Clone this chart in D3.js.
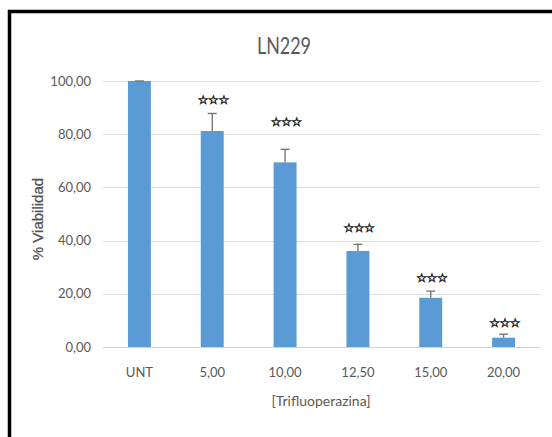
<!DOCTYPE html>
<html>
<head>
<meta charset="utf-8">
<script src="https://cdn.jsdelivr.net/npm/d3@7"></script>
<style>
  html, body { margin: 0; padding: 0; background: #fff; }
  svg { display: block; }
</style>
</head>
<body>
<svg id="chart" width="552" height="437"></svg>
<script>
// Viability of LN229 cells under increasing trifluoperazine concentrations
const categories = ["UNT", "5,00", "10,00", "12,50", "15,00", "20,00"];
const viability = [100, 81.2, 69.4, 36.1, 18.5, 3.5];
const errorUp = [0, 6.6, 4.9, 2.5, 2.5, 1.3];
const significance = ["", "***", "***", "***", "***", "***"];
const markerLevel = [0, 93.2, 85, 45.1, 26.3, 9.4];
const yTicks = [0, 20, 40, 60, 80, 100];

const svg = d3.select("#chart");
const W = 552, H = 437;
const margin = { left: 103, top: 81 };
const plotRight = 540, plotBottom = 347;

const x = d3.scaleBand().domain(categories).range([margin.left, plotRight]).paddingInner(0.685).paddingOuter(0.3425);
const y = d3.scaleLinear().domain([0, 100]).range([plotBottom, margin.top]);

const gray = "#595959";
const fontMain = "Lato, 'Open Sans', sans-serif";

// frame: heavy top and left strokes
svg.append("line").attr("x1", 8).attr("x2", W).attr("y1", 11.5).attr("y2", 11.5)
  .attr("stroke", "#000").attr("stroke-width", 3.5);
svg.append("line").attr("x1", 9.5).attr("x2", 9.5).attr("y1", 10).attr("y2", H)
  .attr("stroke", "#000").attr("stroke-width", 3.5);

// title
svg.append("text").attr("x", 257).attr("y", 54)
  .attr("font-family", fontMain).attr("font-size", 23).attr("fill", gray)
  .attr("textLength", 54).attr("lengthAdjust", "spacingAndGlyphs")
  .text("LN229");

// gridlines
svg.append("g").selectAll("line").data(yTicks).join("line")
  .attr("x1", margin.left).attr("x2", plotRight)
  .attr("y1", d => Math.round(y(d)) + 0.5).attr("y2", d => Math.round(y(d)) + 0.5)
  .attr("stroke", d => d === 0 ? "#d0d0d0" : "#dedede").attr("stroke-width", 1);

// y axis tick labels
const yAxis = d3.axisLeft(y).tickValues(yTicks).tickSize(0).tickPadding(0)
  .tickFormat(d => d3.format(".2f")(d).replace(".", ","));
const gy = svg.append("g").attr("transform", "translate(91,0)").call(yAxis);
gy.select(".domain").remove();
gy.selectAll("text").attr("font-family", fontMain).attr("font-size", 13).attr("fill", gray);

// y axis title
svg.append("text").attr("transform", "translate(43,219) rotate(-90)")
  .attr("text-anchor", "middle").attr("font-family", "'Liberation Sans', Arial, sans-serif")
  .attr("font-size", 15).attr("fill", "#505050").attr("stroke", "#505050").attr("stroke-width", 0.25)
  .text("% Viabilidad");

// x axis labels
const xAxis = d3.axisBottom(x).tickSize(0).tickPadding(0);
const gx = svg.append("g").attr("transform", `translate(0,${plotBottom + 30})`).call(xAxis);
gx.select(".domain").remove();
gx.selectAll("text").attr("dy", 0).attr("font-family", fontMain).attr("font-size", 13).attr("fill", gray);

// x axis title
svg.append("text").attr("x", 321).attr("y", 406).attr("text-anchor", "middle")
  .attr("font-family", fontMain).attr("font-size", 14).attr("fill", gray)
  .text("[Trifluoperazina]");

const data = categories.map((c, i) => ({ c, v: viability[i], e: errorUp[i], s: significance[i], m: markerLevel[i] }));

// bars
svg.append("g").selectAll("rect").data(data).join("rect")
  .attr("x", d => x(d.c)).attr("width", x.bandwidth())
  .attr("y", d => y(d.v)).attr("height", d => y(0) - y(d.v))
  .attr("fill", "#5b9bd5");

// upper error bars
const eb = svg.append("g").attr("stroke", "#6f6f6f").attr("stroke-width", 1.3);
data.forEach(d => {
  const cx = x(d.c) + x.bandwidth() / 2;
  eb.append("line").attr("x1", cx).attr("x2", cx).attr("y1", y(d.v)).attr("y2", y(d.v + d.e));
  eb.append("line").attr("x1", cx - 4.5).attr("x2", cx + 4.5).attr("y1", y(d.v + d.e)).attr("y2", y(d.v + d.e));
});

// significance markers
svg.append("g").selectAll("text").data(data.filter(d => d.s)).join("text")
  .attr("x", d => x(d.c) + x.bandwidth() / 2 + 1)
  .attr("y", d => y(d.m) + 5)
  .attr("text-anchor", "middle")
  .attr("font-family", "'DejaVu Sans', sans-serif").attr("font-size", 12)
  .attr("fill", "#3c3c3c").attr("stroke", "#2a2a2a").attr("stroke-width", 0.7)
  .attr("letter-spacing", -0.5)
  .text(d => d.s.replace(/\*/g, "\u2606"));
</script>
</body>
</html>
